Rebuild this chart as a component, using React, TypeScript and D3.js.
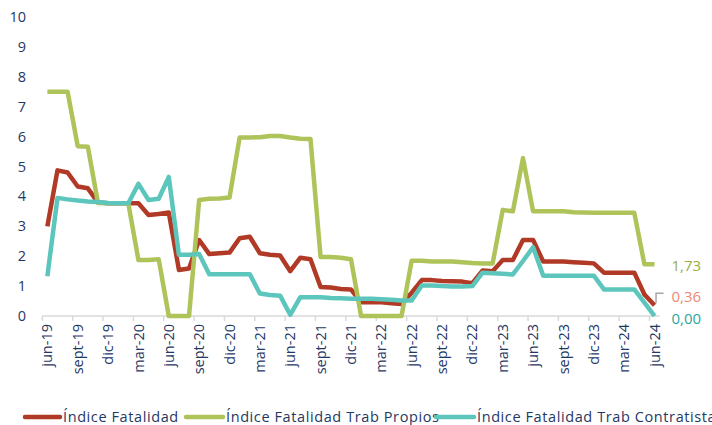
import React from 'react';
import * as d3 from 'd3';

const months = [
  'jun-19', 'jul-19', 'ago-19', 'sept-19', 'oct-19', 'nov-19', 'dic-19', 'ene-20', 'feb-20', 'mar-20', 'abr-20', 'may-20',
  'jun-20', 'jul-20', 'ago-20', 'sept-20', 'oct-20', 'nov-20', 'dic-20', 'ene-21', 'feb-21', 'mar-21', 'abr-21', 'may-21',
  'jun-21', 'jul-21', 'ago-21', 'sept-21', 'oct-21', 'nov-21', 'dic-21', 'ene-22', 'feb-22', 'mar-22', 'abr-22', 'may-22',
  'jun-22', 'jul-22', 'ago-22', 'sept-22', 'oct-22', 'nov-22', 'dic-22', 'ene-23', 'feb-23', 'mar-23', 'abr-23', 'may-23',
  'jun-23', 'jul-23', 'ago-23', 'sept-23', 'oct-23', 'nov-23', 'dic-23', 'ene-24', 'feb-24', 'mar-24', 'abr-24', 'may-24',
  'jun-24',
];

const tickLabels = [
  'jun-19', 'sept-19', 'dic-19', 'mar-20', 'jun-20', 'sept-20', 'dic-20', 'mar-21', 'jun-21', 'sept-21', 'dic-21',
  'mar-22', 'jun-22', 'sept-22', 'dic-22', 'mar-23', 'jun-23', 'sept-23', 'dic-23', 'mar-24', 'jun-24',
];

const yTicks = [0, 1, 2, 3, 4, 5, 6, 7, 8, 9, 10];

const fatalidad = [
  3.0, 4.87, 4.8, 4.33, 4.27, 3.8, 3.77, 3.77, 3.77, 3.77, 3.38, 3.41,
  3.46, 1.54, 1.59, 2.54, 2.07, 2.1, 2.12, 2.6, 2.65, 2.1, 2.05, 2.02,
  1.5, 1.95, 1.9, 0.97, 0.95, 0.9, 0.89, 0.46, 0.46, 0.46, 0.43, 0.4,
  0.78, 1.2, 1.2, 1.17, 1.16, 1.15, 1.1, 1.52, 1.5, 1.87, 1.87, 2.54,
  2.54, 1.82, 1.82, 1.82, 1.8, 1.78, 1.76, 1.45, 1.45, 1.45, 1.45, 0.72,
  0.36,
];

const propios = [
  7.5, 7.5, 7.5, 5.68, 5.66, 3.78, 3.77, 3.77, 3.77, 1.87, 1.87, 1.9,
  0, 0, 0, 3.88, 3.92, 3.93, 3.96, 5.97, 5.97, 5.98, 6.02, 6.02,
  5.97, 5.93, 5.92, 1.97, 1.97, 1.95, 1.9, 0, 0, 0, 0, 0,
  1.85, 1.85, 1.82, 1.82, 1.82, 1.8, 1.77, 1.76, 1.76, 3.55, 3.5, 5.28,
  3.5, 3.5, 3.5, 3.5, 3.47, 3.46, 3.45, 3.45, 3.45, 3.45, 3.45, 1.73,
  1.73,
];

const contratistas = [
  1.33, 3.95, 3.9, 3.86, 3.83, 3.81, 3.78, 3.77, 3.77, 4.42, 3.88, 3.92,
  4.65, 2.05, 2.05, 2.07, 1.4, 1.4, 1.4, 1.4, 1.4, 0.75, 0.7, 0.68,
  0.04, 0.63, 0.63, 0.63, 0.6, 0.59, 0.58, 0.58, 0.58, 0.56, 0.54, 0.52,
  0.52, 1.02, 1.02, 1.0, 0.99, 0.99, 1.0, 1.45, 1.43, 1.41, 1.39, 1.84,
  2.3, 1.35, 1.35, 1.35, 1.35, 1.35, 1.35, 0.89, 0.89, 0.89, 0.89, 0.45,
  0.0,
];

const seriesNames = ['Índice Fatalidad', 'Índice Fatalidad Trab Propios', 'Índice Fatalidad Trab Contratistas'];
const seriesColors = ['#B13A27', '#AEC45A', '#5CC6BC'];
const labelColors = ['#EA8A78', '#98AE45', '#2DA89C'];

const W = 712;
const H = 425;
const FONT = '"Open Sans", "DejaVu Sans", sans-serif';
const NAVY = '#1F3864';

export default function App() {
  const n = months.length;
  const x = d3.scaleLinear().domain([-0.5, n - 0.5]).range([42.3, 659.6]);
  const y = d3.scaleLinear().domain([0, 10]).range([316, 17]);

  const line = d3.line<number>()
    .x((d, i) => x(i))
    .y(d => y(d));

  const series = [fatalidad, propios, contratistas];

  // tick marks sit on the category boundaries, every 3 months
  const tickIdx = tickLabels.map(t => months.indexOf(t));

  const last = n - 1;
  const endLabels = [
    { v: propios[last], c: labelColors[1], dy: 1 },
    { v: fatalidad[last], c: labelColors[0], dy: -8.5 },
    { v: contratistas[last], c: labelColors[2], dy: 2.5 },
  ];
  const fmt = (v: number) => v.toFixed(2).replace('.', ',');

  const legendX = [[25, 60, 63], [186, 223, 226], [436, 474, 477]];

  return (
    <svg width={W} height={H} style={{ position: 'absolute', left: 0, top: 0, background: '#fff' }}
         fontFamily={FONT}>
      {/* y axis labels */}
      {yTicks.map(t => (
        <text key={t} x={26} y={y(t)} dy="0.35em" textAnchor="end" fontSize={14.5} fill={NAVY}>{t}</text>
      ))}

      {/* x axis */}
      <line x1={x(-0.5)} x2={x(n - 0.5)} y1={y(0)} y2={y(0)} stroke="#D9D9D9" strokeWidth={1.5} />
      {tickIdx.map(i => (
        <line key={i} x1={x(i - 0.5)} x2={x(i - 0.5)} y1={y(0)} y2={y(0) + 5} stroke="#D9D9D9" strokeWidth={1.5} />
      ))}
      {tickIdx.map((i, k) => (
        <text key={'l' + i} transform={`translate(${x(i)},${y(0) + 8}) rotate(-90)`} dy="0.35em"
              textAnchor="end" fontSize={14.5} fill={NAVY}>{tickLabels[k]}</text>
      ))}

      {/* lines */}
      {series.map((s, k) => (
        <path key={k} d={line(s) || ''} fill="none" stroke={seriesColors[k]} strokeWidth={4.5}
              strokeLinejoin="round" />
      ))}

      {/* end-of-series labels */}
      <polyline points={`${x(last) + 1.5},${y(fatalidad[last]) - 2} ${x(last) + 1.5},${y(fatalidad[last]) - 12} ${x(last) + 9},${y(fatalidad[last]) - 12}`}
                fill="none" stroke="#A6A6A6" strokeWidth={1.5} />
      {endLabels.map((l, k) => (
        <text key={k} x={x(last) + 17} y={y(l.v) + l.dy} dy="0.35em" fontSize={15} fill={l.c}>{fmt(l.v)}</text>
      ))}

      {/* legend */}
      {seriesNames.map((name, k) => (
        <g key={name}>
          <line x1={legendX[k][0]} x2={legendX[k][1]} y1={417} y2={417} stroke={seriesColors[k]}
                strokeWidth={4.5} strokeLinecap="round" />
          <text x={legendX[k][2]} y={422} fontSize={14.5} letterSpacing={0.6} fill={NAVY}>{name}</text>
        </g>
      ))}
    </svg>
  );
}
